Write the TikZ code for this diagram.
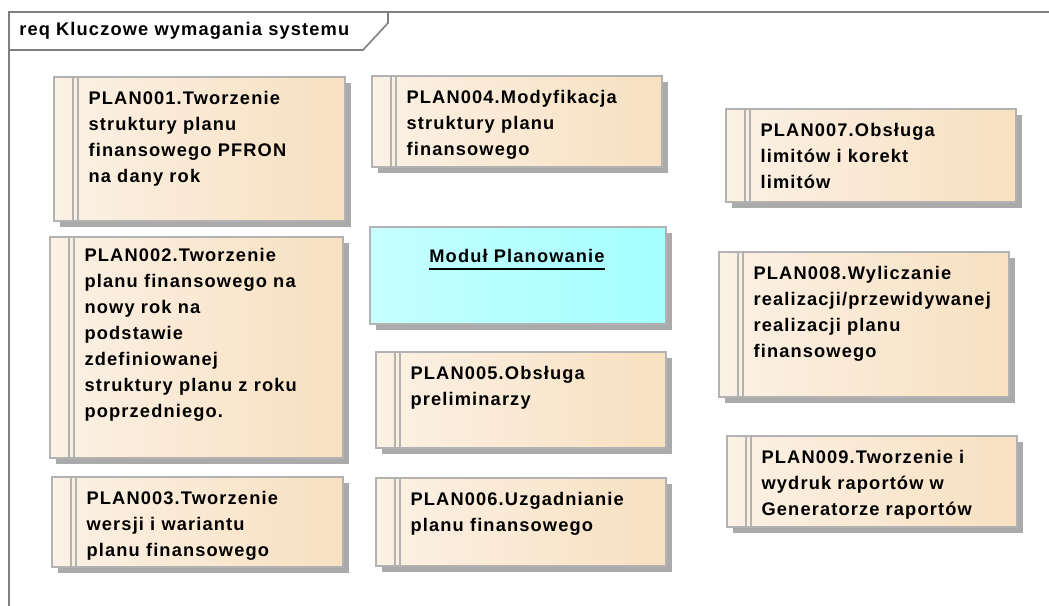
\documentclass[tikz,border=0pt]{standalone}
\usepackage{fontspec}
\setmainfont{Liberation Sans}[LetterSpace=6.2]
\usetikzlibrary{shadows,fit}
\definecolor{reqL}{RGB}{251,241,229}
\definecolor{reqR}{RGB}{248,224,192}
\definecolor{modL}{RGB}{198,255,255}
\definecolor{modR}{RGB}{164,255,255}
\definecolor{bord}{RGB}{178,178,178}
\definecolor{shad}{RGB}{170,170,170}
\definecolor{framec}{RGB}{128,128,128}
\begin{document}
\begin{tikzpicture}[x=0.75pt,y=-0.75pt,
  boxbase/.style={draw=bord, line width=1pt, inner sep=0pt,
    drop shadow={shadow xshift=4.5pt, shadow yshift=-4.5pt, fill=shad, opacity=1}},
  req/.style={boxbase, left color=reqL, right color=reqR,
    path picture={
      \draw[bord, line width=0.9pt] ([xshift=14.25pt]path picture bounding box.north west) -- ([xshift=14.25pt]path picture bounding box.south west);
      \draw[bord, line width=0.9pt] ([xshift=18pt]path picture bounding box.north west) -- ([xshift=18pt]path picture bounding box.south west);}},
  modbox/.style={boxbase, left color=modL, right color=modR},
  reqtext/.style={anchor=north west, inner sep=0pt, align=left,
    font=\fontsize{13.7pt}{19.5pt}\selectfont\bfseries},
  frameline/.style={draw=framec, line width=1.2pt}
]
\useasboundingbox (0,0) rectangle (1049,606);
\clip (0,0) rectangle (1049,606);
\fill[white] (0,0) rectangle (1049,606);

% frame
\draw[frameline] (9,620) -- (9,12) -- (1060,12);
\draw[frameline] (9,50) -- (363,50) -- (388,23) -- (388,12);
\node[anchor=base west, inner sep=0pt, font=\fontsize{13.7pt}{16pt}\selectfont\bfseries] (title) at (19,36) {req Kluczowe wymagania systemu};

% requirement boxes
\node[req, fit={(54,77) (345,221)}] (p1) {};
\node[reqtext] (p1t) at ([shift={(35,15)}]p1.north west) {PLAN001.Tworzenie\\struktury planu\\finansowego PFRON\\na dany rok};

\node[req, fit={(50,237) (343,458)}] (p2) {};
\node[reqtext] (p2t) at ([shift={(35,12)}]p2.north west) {PLAN002.Tworzenie\\planu finansowego na\\nowy rok na\\podstawie\\zdefiniowanej\\struktury planu z roku\\poprzedniego.};

\node[req, fit={(52,477) (343,567)}] (p3) {};
\node[reqtext] (p3t) at ([shift={(35,15)}]p3.north west) {PLAN003.Tworzenie\\wersji i wariantu\\planu finansowego};

\node[req, fit={(372,76) (662,167)}] (p4) {};
\node[reqtext] (p4t) at ([shift={(35,15)}]p4.north west) {PLAN004.Modyfikacja\\struktury planu\\finansowego};

\node[modbox, fit={(370,227) (666,324)}] (mod) {};
\node[anchor=base, inner sep=0pt, font=\fontsize{13.7pt}{16pt}\selectfont\bfseries] (modt) at (517,262) {Moduł Planowanie};
\draw[line width=1.3pt] ([yshift=-5pt]modt.base west) -- ([yshift=-5pt]modt.base east);

\node[req, fit={(376,352) (666,448)}] (p5) {};
\node[reqtext] (p5t) at ([shift={(35,15)}]p5.north west) {PLAN005.Obsługa\\preliminarzy};

\node[req, fit={(376,478) (666,566)}] (p6) {};
\node[reqtext] (p6t) at ([shift={(35,15)}]p6.north west) {PLAN006.Uzgadnianie\\planu finansowego};

\node[req, fit={(726,109) (1016,202)}] (p7) {};
\node[reqtext] (p7t) at ([shift={(35,15)}]p7.north west) {PLAN007.Obsługa\\limitów i korekt\\limitów};

\node[req, fit={(719,252) (1009,397)}] (p8) {};
\node[reqtext] (p8t) at ([shift={(35,15)}]p8.north west) {PLAN008.Wyliczanie\\realizacji/przewidywanej\\realizacji planu\\finansowego};

\node[req, fit={(727,436) (1017,527)}] (p9) {};
\node[reqtext] (p9t) at ([shift={(35,15)}]p9.north west) {PLAN009.Tworzenie i\\wydruk raportów w\\Generatorze raportów};
\end{tikzpicture}
\end{document}
